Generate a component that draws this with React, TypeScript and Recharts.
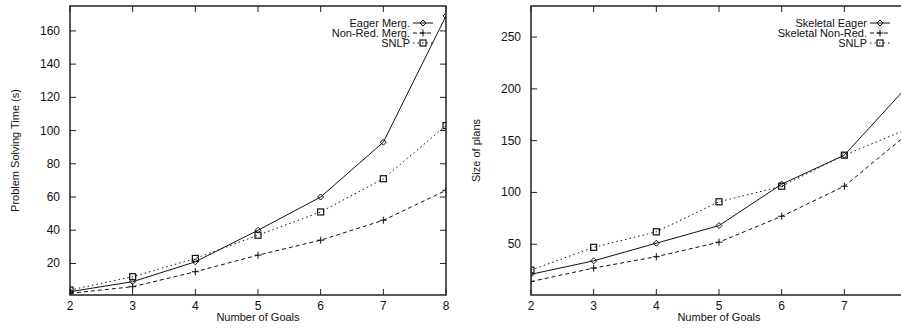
import React from 'react';
import { LineChart, Line, XAxis, YAxis, ReferenceArea, ReferenceLine } from 'recharts';

// ---------- data ----------
const goals = [2, 3, 4, 5, 6, 7, 8];
const goalTicks = [2, 3, 4, 5, 6, 7, 8];

const eagerMergTime = [3, 9, 21, 40, 60, 93, 169];
const nonRedMergTime = [2, 6, 15, 25, 34, 46, 64];
const snlpTime = [4, 12, 23, 37, 51, 71, 103];
const timeTicks = [20, 40, 60, 80, 100, 120, 140, 160];

const skeletalEagerSize = [21, 34, 51, 68, 108, 136, 202];
const skeletalNonRedSize = [14, 27, 38, 52, 77, 106, 156];
const snlpSize = [25, 47, 62, 91, 106, 136, 161];
const sizeTicks = [50, 100, 150, 200, 250];

const timeData = goals.map((g, i) => ({
  goals: g,
  eager: eagerMergTime[i],
  nonred: nonRedMergTime[i],
  snlp: snlpTime[i],
}));

const sizeData = goals.map((g, i) => ({
  goals: g,
  eager: skeletalEagerSize[i],
  nonred: skeletalNonRedSize[i],
  snlp: snlpSize[i],
}));

// ---------- style ----------
const FONT = "'Liberation Sans', Arial, Helvetica, sans-serif";
const FS = 11;
const TICK_FS = 12;
const INK = '#111';
const FRAME = '#222';
const TICK_LEN = 6;
const Y_TICK_MARGIN = 10;
const X_TICK_MARGIN = 6;

type Marker = 'diamond' | 'plus' | 'square';

const renderMarker = (kind: Marker, cx: number, cy: number, key?: string) => {
  if (cx == null || cy == null || isNaN(cx) || isNaN(cy)) return <g key={key} />;
  if (kind === 'diamond') {
    const r = 3;
    return (
      <path
        key={key}
        d={`M${cx},${cy - r}L${cx + r},${cy}L${cx},${cy + r}L${cx - r},${cy}Z`}
        fill="none"
        stroke={INK}
        strokeWidth={1}
      />
    );
  }
  if (kind === 'plus') {
    const r = 3.5;
    return (
      <g key={key} stroke={INK} strokeWidth={1}>
        <line x1={cx - r} x2={cx + r} y1={cy} y2={cy} />
        <line x1={cx} x2={cx} y1={cy - r} y2={cy + r} />
      </g>
    );
  }
  const s = 3;
  return (
    <rect key={key} x={cx - s} y={cy - s} width={2 * s} height={2 * s} fill="none" stroke={INK} strokeWidth={1.2} />
  );
};

const seriesDefs = [
  { key: 'eager', dash: undefined as string | undefined, marker: 'diamond' as Marker },
  { key: 'nonred', dash: '4 3', marker: 'plus' as Marker },
  { key: 'snlp', dash: '1.5 3', marker: 'square' as Marker },
];

const timeNames = ['Eager Merg.', 'Non-Red. Merg.', 'SNLP'];
const sizeNames = ['Skeletal Eager', 'Skeletal Non-Red.', 'SNLP'];

// ---------- tick labels ----------
const LeftTick = (props: any) => {
  const { x, y, payload } = props;
  return (
    <text x={x} y={y} textAnchor="end" dominantBaseline="central" fontFamily={FONT} fontSize={TICK_FS} fill={INK}>
      {payload.value}
    </text>
  );
};

const BottomTick = (props: any) => {
  const { x, y, payload } = props;
  return (
    <text x={x} y={y} dy="0.71em" textAnchor="middle" fontFamily={FONT} fontSize={TICK_FS} fill={INK}>
      {payload.value}
    </text>
  );
};

// inward tick marks on both ends of a reference line (gnuplot style mirrored ticks)
const VTickPair = (props: any) => {
  const { x1, y1, y2 } = props;
  if ([x1, y1, y2].some((v) => v == null || isNaN(v))) return <g />;
  const top = Math.min(y1, y2);
  const bottom = Math.max(y1, y2);
  return (
    <g stroke={FRAME} strokeWidth={1}>
      <line x1={x1} x2={x1} y1={top} y2={top + TICK_LEN} />
      <line x1={x1} x2={x1} y1={bottom} y2={bottom - TICK_LEN} />
    </g>
  );
};

const HTickPair = (props: any) => {
  const { x1, x2, y1 } = props;
  if ([x1, x2, y1].some((v) => v == null || isNaN(v))) return <g />;
  const left = Math.min(x1, x2);
  const right = Math.max(x1, x2);
  return (
    <g stroke={FRAME} strokeWidth={1}>
      <line x1={left} x2={left + TICK_LEN} y1={y1} y2={y1} />
      <line x1={right} x2={right - TICK_LEN} y1={y1} y2={y1} />
    </g>
  );
};

// ---------- titles ----------
const yTitle = (text: string) => (props: any) => {
  const vb = props.viewBox || {};
  const cx = vb.x + vb.width - 55;
  const cy = vb.y + vb.height / 2;
  return (
    <text
      x={cx}
      y={cy}
      transform={`rotate(-90 ${cx} ${cy})`}
      textAnchor="middle"
      dominantBaseline="central"
      fontFamily={FONT}
      fontSize={FS}
      fill={INK}
    >
      {text}
    </text>
  );
};

const xTitle = (text: string) => (props: any) => {
  const vb = props.viewBox || {};
  const cx = vb.x + vb.width / 2;
  const cy = vb.y + 22;
  return (
    <text x={cx} y={cy} textAnchor="middle" dominantBaseline="central" fontFamily={FONT} fontSize={FS} fill={INK}>
      {text}
    </text>
  );
};

// ---------- legend ----------
const KeyBox = ({ names, left }: { names: string[]; left: number }) => (
  <svg
    width={200}
    height={36}
    style={{ position: 'absolute', top: 13, left, display: 'block', overflow: 'visible' }}
  >
    {seriesDefs.map((s, i) => {
      const cy = 10 + i * 10;
      return (
        <g key={s.key}>
          <text x={177} y={cy} textAnchor="end" dominantBaseline="central" fontFamily={FONT} fontSize={FS} fill={INK}>
            {names[i]}
          </text>
          <line x1={180} x2={200} y1={cy} y2={cy} stroke={INK} strokeWidth={1} strokeDasharray={s.dash} />
          {renderMarker(s.marker, 190, cy)}
        </g>
      );
    })}
  </svg>
);

// ---------- panel ----------
type PanelProps = {
  data: any[];
  yDomain: [number, number];
  yTicks: number[];
  yLabel: string;
  width: number;
  marginLeft: number;
  marginRight: number;
};

const X_DOMAIN: [number, number] = [2, 8];

const Panel = ({ data, yDomain, yTicks, yLabel, width, marginLeft, marginRight }: PanelProps) => (
  <LineChart
    width={width}
    height={328}
    data={data}
    margin={{ top: 6, right: marginRight, bottom: 0, left: marginLeft }}
  >
    <XAxis
      dataKey="goals"
      type="number"
      domain={X_DOMAIN}
      ticks={goalTicks}
      interval={0}
      height={33}
      tickSize={0}
      tickMargin={X_TICK_MARGIN}
      tick={<BottomTick />}
      axisLine={false}
      allowDataOverflow
      label={xTitle('Number of Goals')}
    />
    <YAxis
      type="number"
      domain={yDomain}
      ticks={yTicks}
      interval={0}
      width={60}
      tickSize={0}
      tickMargin={Y_TICK_MARGIN}
      tick={<LeftTick />}
      axisLine={false}
      allowDataOverflow
      label={yTitle(yLabel)}
    />
    {goalTicks.map((g) => (
      <ReferenceLine key={`vx-${g}`} x={g} stroke="none" shape={(p: any) => <VTickPair {...p} />} />
    ))}
    {yTicks.map((v) => (
      <ReferenceLine key={`hy-${v}`} y={v} stroke="none" shape={(p: any) => <HTickPair {...p} />} />
    ))}
    <ReferenceArea
      x1={X_DOMAIN[0]}
      x2={X_DOMAIN[1]}
      y1={yDomain[0]}
      y2={yDomain[1]}
      fill="none"
      fillOpacity={0}
      stroke={FRAME}
      strokeWidth={1.5}
    />
    {seriesDefs.map((s) => (
      <Line
        key={s.key}
        dataKey={s.key}
        stroke={INK}
        strokeWidth={1}
        strokeDasharray={s.dash}
        isAnimationActive={false}
        dot={(p: any) => renderMarker(s.marker, p.cx, p.cy, `${s.key}-${p.index}`)}
        activeDot={false}
      />
    ))}
  </LineChart>
);

export default function App() {
  return (
    <div
      style={{
        position: 'absolute',
        left: 0,
        top: 0,
        width: 901,
        height: 328,
        overflow: 'hidden',
        background: '#fff',
      }}
    >
      <div style={{ position: 'absolute', left: 0, top: 0, width: 450, height: 328 }}>
        <Panel
          data={timeData}
          yDomain={[1, 175]}
          yTicks={timeTicks}
          yLabel="Problem Solving Time (s)"
          width={450}
          marginLeft={10}
          marginRight={4}
        />
        <KeyBox names={timeNames} left={233} />
      </div>
      <div style={{ position: 'absolute', left: 450, top: 0, width: 460, height: 328 }}>
        <Panel
          data={sizeData}
          yDomain={[1, 280]}
          yTicks={sizeTicks}
          yLabel="Size of plans"
          width={460}
          marginLeft={21}
          marginRight={3}
        />
        <KeyBox names={sizeNames} left={240} />
      </div>
    </div>
  );
}
